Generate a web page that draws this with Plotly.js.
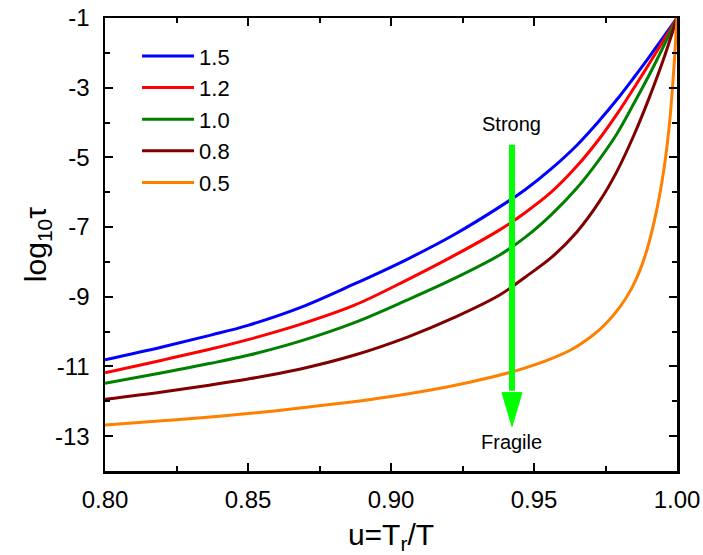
<!DOCTYPE html>
<html>
<head>
<meta charset="utf-8">
<script src="https://cdn.plot.ly/plotly-3.0.1.min.js"></script>
<style>html,body{margin:0;padding:0;background:#fff;}#chart{width:703px;height:555px;}</style>
</head>
<body>
<div id="chart"></div>
<script>
// x values (u = Tr/T)
const uMain = [0.800, 0.820, 0.837, 0.850, 0.868, 0.887, 0.906, 0.922, 0.938, 0.947, 0.956, 0.965, 0.973, 0.979, 0.985, 0.990, 0.995, 1.000];
const uOrange = [0.800, 0.820, 0.840, 0.860, 0.880, 0.900, 0.920, 0.935, 0.945, 0.955, 0.963, 0.970, 0.975, 0.980, 0.984, 0.987, 0.9895, 0.992, 0.994, 0.9955, 0.9967, 0.9977, 0.9986, 0.9993, 1.000];
// log10(tau) series
const s15 = [-10.81, -10.44, -10.10, -9.82, -9.32, -8.64, -7.91, -7.22, -6.42, -5.92, -5.33, -4.65, -3.93, -3.34, -2.70, -2.15, -1.58, -1.00];
const s12 = [-11.18, -10.82, -10.50, -10.23, -9.80, -9.25, -8.50, -7.82, -7.08, -6.58, -6.00, -5.25, -4.45, -3.76, -3.00, -2.35, -1.68, -1.00];
const s10 = [-11.48, -11.18, -10.91, -10.68, -10.28, -9.75, -9.08, -8.48, -7.80, -7.29, -6.65, -5.88, -5.04, -4.32, -3.44, -2.68, -1.86, -1.00];
const s08 = [-11.94, -11.73, -11.53, -11.36, -11.08, -10.68, -10.15, -9.60, -8.95, -8.43, -7.88, -7.14, -6.25, -5.40, -4.35, -3.35, -2.25, -1.00];
const s05 = [-12.68, -12.56, -12.43, -12.27, -12.08, -11.86, -11.58, -11.31, -11.09, -10.81, -10.52, -10.14, -9.78, -9.30, -8.78, -8.25, -7.65, -6.85, -6.05, -5.30, -4.55, -3.75, -2.80, -1.95, -1.00];
const seriesNames = ["1.5", "1.2", "1.0", "0.8", "0.5"];
const xTickVals = [0.80, 0.85, 0.90, 0.95, 1.00];
const xTickText = ["0.80", "0.85", "0.90", "0.95", "1.00"];
const yTickVals = [-1, -3, -5, -7, -9, -11, -13];
const yTickText = ["-1", "-3", "-5", "-7", "-9", "-11", "-13"];

const colors = ["#0000ff", "#ff0000", "#008000", "#800000", "#ff8000"];
const xs = [uMain, uMain, uMain, uMain, uOrange];
const ys = [s15, s12, s10, s08, s05];
const FONT = "Arial, 'Liberation Sans', sans-serif";

const traces = ys.map((y, i) => ({
  x: xs[i], y: y, name: seriesNames[i], type: "scatter", mode: "lines",
  line: {color: colors[i], width: 3, shape: "spline", smoothing: 1}
}));

// green arrow (Strong -> Fragile)
const ax = 0.9423, aTop = -4.64, aBase = -11.75, aTip = -12.72, aHalf = 0.0035;

const layout = {
  width: 703, height: 555,
  margin: {l: 105, r: 26, t: 18, b: 84},
  paper_bgcolor: "#fff", plot_bgcolor: "#fff",
  font: {family: FONT, color: "#000", size: 24},
  showlegend: true,
  legend: {x: 0.056, y: 0.962, xanchor: "left", yanchor: "top", bgcolor: "rgba(0,0,0,0)",
           font: {size: 22, family: FONT}, itemwidth: 52, tracegroupgap: 0},
  xaxis: {
    range: [0.8, 1.0], tickvals: xTickVals, ticktext: xTickText,
    ticks: "inside", ticklen: 8, tickwidth: 2, tickcolor: "#000",
    minor: {dtick: 0.025, tick0: 0.8, ticks: "inside", ticklen: 5, tickwidth: 2, tickcolor: "#000"},
    showline: true, linecolor: "#000", linewidth: 2.5, mirror: "ticks",
    showgrid: false, zeroline: false, tickfont: {size: 24, family: FONT},
    ticklabelstandoff: 6,
    title: {text: "u=T<sub>r</sub>/T", font: {size: 30, family: FONT}, standoff: 14}
  },
  yaxis: {
    range: [-14, -1], tickvals: yTickVals, ticktext: yTickText,
    ticks: "inside", ticklen: 8, tickwidth: 2, tickcolor: "#000",
    minor: {dtick: 1, tick0: -1, ticks: "inside", ticklen: 5, tickwidth: 2, tickcolor: "#000"},
    showline: true, linecolor: "#000", linewidth: 2.5, mirror: "ticks",
    showgrid: false, zeroline: false, tickfont: {size: 24, family: FONT},
    ticklabelstandoff: 8,
    title: {text: "log<sub>10</sub>τ", font: {size: 30, family: FONT}, standoff: 0}
  },
  shapes: [
    {type: "line", xref: "x", yref: "y", x0: ax, x1: ax, y0: aTop, y1: aBase + 0.05,
     line: {color: "#00ff00", width: 6}, layer: "above"},
    {type: "path", xref: "x", yref: "y",
     path: `M ${ax - aHalf},${aBase} L ${ax + aHalf},${aBase} L ${ax},${aTip} Z`,
     fillcolor: "#00ff00", line: {color: "#00ff00", width: 1}, layer: "above"}
  ],
  annotations: [
    {x: ax, y: -4.04, xref: "x", yref: "y", text: "Strong", showarrow: false,
     font: {size: 20, family: FONT}, xanchor: "center", yanchor: "middle"},
    {x: ax, y: -13.17, xref: "x", yref: "y", text: "Fragile", showarrow: false,
     font: {size: 20, family: FONT}, xanchor: "center", yanchor: "middle"}
  ]
};

Plotly.newPlot("chart", traces, layout, {displayModeBar: false, staticPlot: true});
</script>
</body>
</html>
